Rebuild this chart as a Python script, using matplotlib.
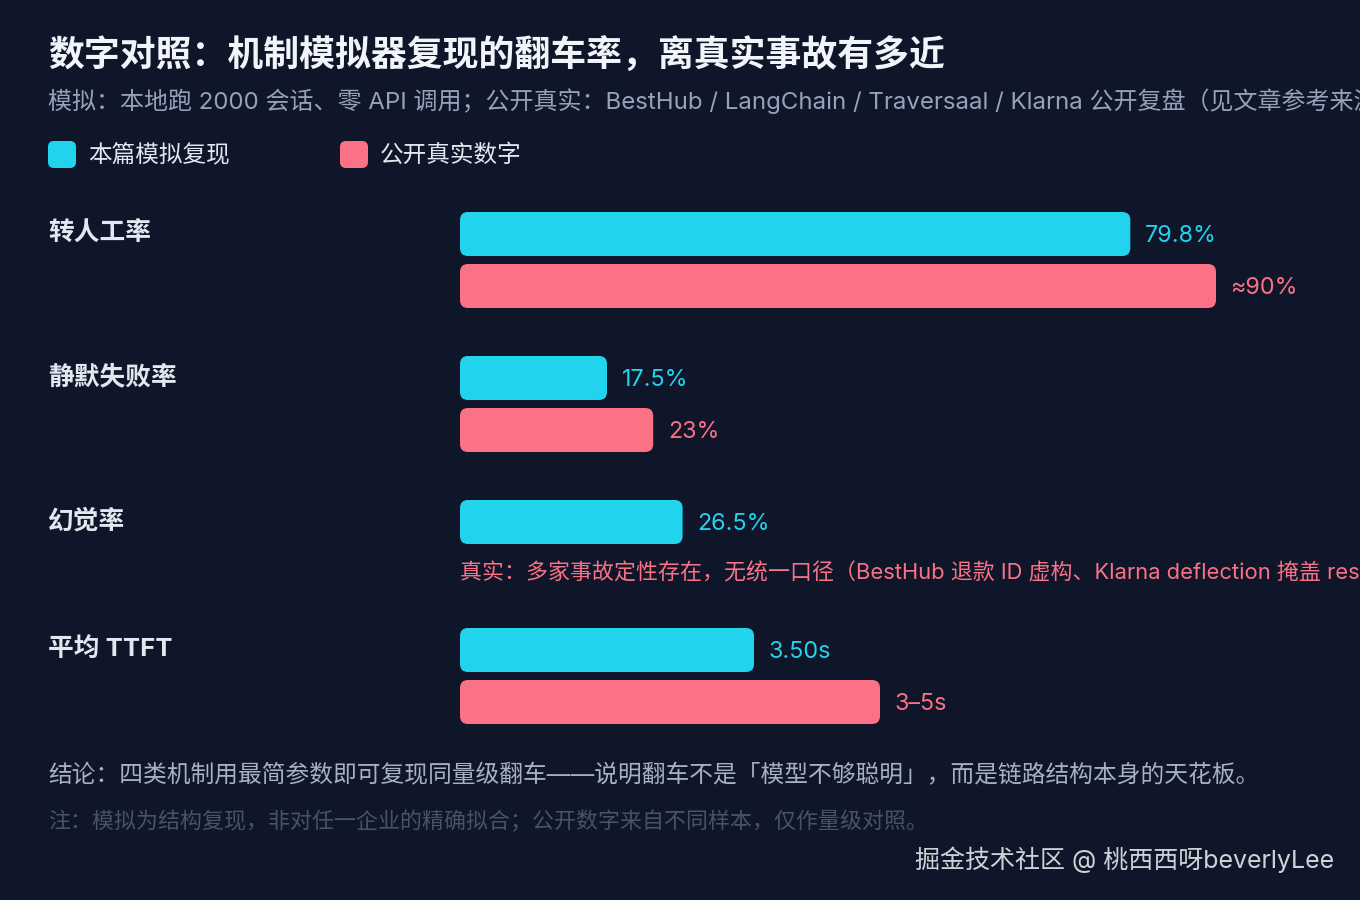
import matplotlib
matplotlib.use("Agg")
import matplotlib.pyplot as plt
from matplotlib.patches import FancyBboxPatch

# ---------------- data ----------------
categories = ['转人工率', '静默失败率', '幻觉率', '平均 TTFT']
sim_values = [79.8, 17.5, 26.5, 3.50]      # TTFT in seconds
real_values = [90, 23, None, 5]            # TTFT: upper end of 3–5s
scale_to_pct = [1, 1, 1, 10]               # TTFT: 10 s == 100 %
sim_labels = ['79.8%', '17.5%', '26.5%', '3.50s']
real_labels = ['≈90%', '23%', None, '3–5s']
hallucination_note = '真实：多家事故定性存在，无统一口径（BestHub 退款 ID 虚构、Klarna deflection 掩盖 resolution）'
legend_labels = ['本篇模拟复现', '公开真实数字']

title = '数字对照：机制模拟器复现的翻车率，离真实事故有多近'
subtitle = '模拟：本地跑 2000 会话、零 API 调用；公开真实：BestHub / LangChain / Traversaal / Klarna 公开复盘（见文章参考来源）'
conclusion = '结论：四类机制用最简参数即可复现同量级翻车——说明翻车不是「模型不够聪明」，而是链路结构本身的天花板。'
footnote = '注：模拟为结构复现，非对任一企业的精确拟合；公开数字来自不同样本，仅作量级对照。'
watermark = '掘金技术社区 @ 桃西西呀beverlyLee'

# ---------------- style ----------------
BG = '#0f1629'
CYAN = '#22d3ee'
PINK = '#fb7185'
FAM = ['Inter', 'Noto Sans CJK SC', 'DejaVu Sans']
plt.rcParams['font.family'] = FAM

W, H = 1360, 900
fig = plt.figure(figsize=(W / 100, H / 100), dpi=100, facecolor=BG)

def fx(px):
    return px / W

def fy(py):
    return 1 - py / H

# plot axes: x in percent (0..100 spans 840 px), y in pixel rows (top origin)
ax_left, ax_width = 460, 840
ax = fig.add_axes([fx(ax_left), 0, ax_width / W, 1])
ax.set_xlim(0, 100)
ax.set_ylim(H, 0)
ax.axis('off')
ax.set_facecolor('none')

px_per_unit_x = ax_width / 100.0
radius_px = 8
mut_aspect = px_per_unit_x  # y units (px) per x unit

def rbar(x0, width, ytop, height, color):
    p = FancyBboxPatch((x0, ytop), width, height,
                       boxstyle=f"round,pad=0,rounding_size={radius_px / px_per_unit_x}",
                       mutation_aspect=mut_aspect,
                       facecolor=color, edgecolor='none')
    ax.add_patch(p)

# ---------------- titles ----------------
fig.text(fx(48), fy(56), title, fontsize=25.8, fontweight='bold', color='#f1f5f9',
         va='center', ha='left')
fig.text(fx(48), fy(101), subtitle, fontsize=17.3, color='#94a3b8',
         va='center', ha='left')

# legend
for i, (lab, col) in enumerate(zip(legend_labels, [CYAN, PINK])):
    x0 = 48 + i * 292
    sq = FancyBboxPatch((fx(x0), fy(168)), 28 / W, 27 / H,
                        boxstyle=f"round,pad=0,rounding_size={6 / W}",
                        mutation_aspect=W / H,
                        transform=fig.transFigure, facecolor=col, edgecolor='none')
    fig.patches.append(sq)
    fig.text(fx(x0 + 40), fy(156), lab, fontsize=17, color='#e2e8f0',
             va='center', ha='left')

# ---------------- bars ----------------
group_tops = [212, 356, 500, 628]
bar_h = 44
gap = 8

for i, cat in enumerate(categories):
    top = group_tops[i]
    fig.text(fx(48), fy(top + 21), cat, fontsize=18.5, fontweight='bold',
             color='#e2e8f0', va='center', ha='left')
    sv = sim_values[i] * scale_to_pct[i]
    rbar(0, sv, top, bar_h, CYAN)
    ax.annotate(sim_labels[i], xy=(sv, top + bar_h / 2 + 2), xytext=(10.5, 0),
                textcoords='offset points', fontsize=16.8, color=CYAN,
                va='center', ha='left')
    y2 = top + bar_h + gap
    if real_values[i] is not None:
        rv = real_values[i] * scale_to_pct[i]
        rbar(0, rv, y2, bar_h, PINK)
        ax.annotate(real_labels[i], xy=(rv, y2 + bar_h / 2 + 2), xytext=(10.5, 0),
                    textcoords='offset points', fontsize=16.8, color=PINK,
                    va='center', ha='left')
    else:
        ax.text(0, y2 + 21, hallucination_note, fontsize=15.8, color=PINK,
                va='center', ha='left', clip_on=False)

# ---------------- footer ----------------
fig.text(fx(48), fy(776), conclusion, fontsize=17.1, color='#a7b1c2',
         va='center', ha='left')
fig.text(fx(48), fy(821), footnote, fontsize=15.8, color='#465468',
         va='center', ha='left')
fig.text(fx(1334), fy(860), watermark, fontsize=18, color='#e5e7eb', alpha=0.9,
         va='center', ha='right')

fig.savefig('out.png', dpi=100, facecolor=BG)
